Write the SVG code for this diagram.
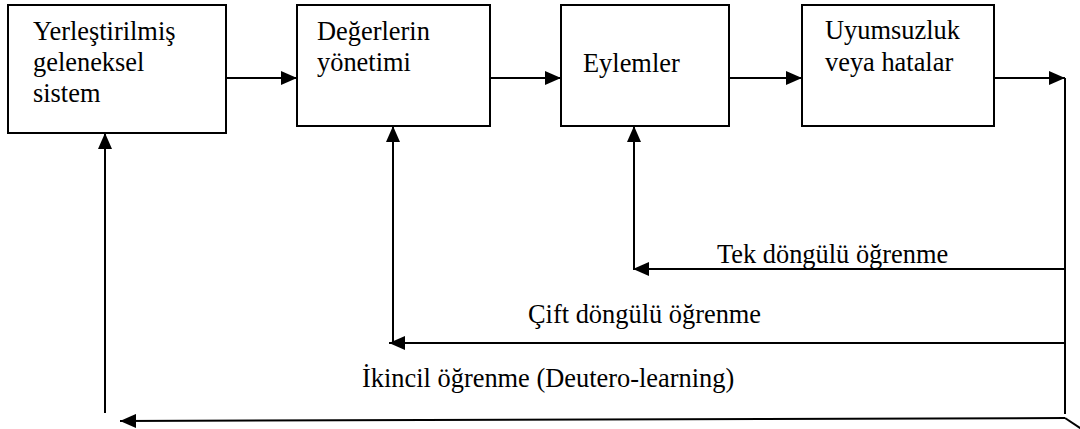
<svg xmlns="http://www.w3.org/2000/svg" width="1080" height="429" viewBox="0 0 1080 429">
<style>
.box{fill:#fff;stroke:#000;stroke-width:2}
.c{fill:none;stroke:#000;stroke-width:2}
</style>
<defs>
<marker id="ah" markerUnits="userSpaceOnUse" markerWidth="16" markerHeight="14" refX="16" refY="7" orient="auto">
<path d="M0,0 L16,7 L0,14 Z" fill="#000"/>
</marker>
</defs>
<rect width="1080" height="429" fill="#fff"/>
<g font-family="Liberation Serif" font-size="26.4" fill="#000">
<g id="n1"><rect class="box" x="8" y="5" width="218" height="128"/>
<text x="33" y="40">Yerleştirilmiş</text><text x="33" y="71">geleneksel</text><text x="33" y="102">sistem</text></g>
<g id="n2"><rect class="box" x="297" y="5" width="193" height="121"/>
<text x="317" y="40">Değerlerin</text><text x="317" y="71">yönetimi</text></g>
<g id="n3"><rect class="box" x="561" y="5" width="168" height="121"/>
<text x="583" y="72">Eylemler</text></g>
<g id="n4"><rect class="box" x="802" y="5" width="192" height="121"/>
<text x="825" y="39">Uyumsuzluk</text><text x="825" y="71">veya hatalar</text></g>
<g id="connectors">
<line class="c" x1="226" y1="78" x2="297" y2="78" marker-end="url(#ah)"/>
<line class="c" x1="490" y1="78" x2="561" y2="78" marker-end="url(#ah)"/>
<line class="c" x1="729" y1="78" x2="802" y2="78" marker-end="url(#ah)"/>
<line class="c" x1="994" y1="78" x2="1065" y2="78" marker-end="url(#ah)"/>
<line class="c" x1="1065" y1="78" x2="1065" y2="414"/>
<line class="c" x1="1065" y1="269" x2="633" y2="269" marker-end="url(#ah)"/>
<line class="c" x1="634" y1="269" x2="634" y2="126" marker-end="url(#ah)"/>
<line class="c" x1="1065" y1="343" x2="389" y2="343" marker-end="url(#ah)"/>
<line class="c" x1="393" y1="343" x2="393" y2="126" marker-end="url(#ah)"/>
<line class="c" x1="1065" y1="418" x2="120" y2="421" marker-end="url(#ah)"/>
<line class="c" x1="1065" y1="418" x2="1083" y2="430"/>
<line class="c" x1="105" y1="413" x2="105" y2="133" marker-end="url(#ah)"/>
<text x="717" y="263">Tek döngülü öğrenme</text>
<text x="528" y="323">Çift döngülü öğrenme</text>
<text x="362" y="387">İkincil öğrenme (Deutero-learning)</text>
</g>
</g>
</svg>
